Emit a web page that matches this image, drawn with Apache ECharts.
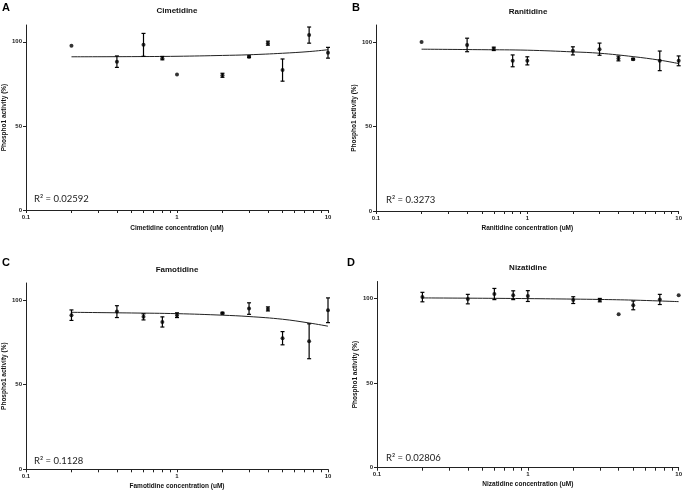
<!DOCTYPE html>
<html><head><meta charset="utf-8">
<script src="https://cdn.jsdelivr.net/npm/echarts@6/dist/echarts.min.js"></script>
<style>html,body{margin:0;padding:0;background:#fff}#c{width:685px;height:492px}</style>
</head><body><div id="c"></div>
<script>
// ---- data ----
const concentrations = [0.2, 0.4, 0.6, 0.8, 1, 2, 3, 4, 5, 7.5, 10];
const cimetidineMean = [97.6, 88.2, 98.2, 90.3, 80.5, 80.1, 91.1, 99.2, 83.2, 104.0, 93.5];
const cimetidineSem  = [0, 3.4, 6.8, 1.0, 0, 1.2, 0.5, 1.2, 6.6, 4.8, 3.2];
const ranitidineMean = [100.0, 98.2, 95.9, 88.8, 88.8, 94.7, 95.7, 90.2, 89.8, 88.8, 88.8];
const ranitidineSem  = [0, 4.0, 1.0, 3.5, 2.4, 2.4, 3.6, 1.4, 0.5, 5.8, 2.9];
const famotidineMean = [91.0, 93.1, 90.0, 87.0, 91.0, 92.2, 94.9, 94.7, 77.4, 75.6, 93.9];
const famotidineSem  = [3.1, 3.5, 1.8, 3.0, 1.4, 0.5, 3.4, 1.2, 3.9, 10.3, 7.3];
const nizatidineMean = [100.8, 99.6, 102.6, 101.9, 101.4, 99.0, 99.0, 90.6, 95.9, 99.4, 101.9];
const nizatidineSem  = [2.8, 2.8, 3.3, 2.6, 3.2, 2.0, 1.0, 0, 2.6, 3.0, 0];
const fitX = [0.2, 0.5, 1, 2, 3, 5, 7.5, 10];
const cimetidineFit = [91.1, 91.2, 91.4, 91.9, 92.3, 93.2, 94.2, 95.3];
const ranitidineFit = [95.7, 95.4, 95.1, 94.1, 93.3, 91.3, 89.2, 87.2];
const famotidineFit = [92.7, 92.3, 91.9, 91.0, 90.2, 88.6, 86.4, 84.5];
const nizatidineFit = [100.3, 100.1, 99.9, 99.6, 99.4, 99.0, 98.5, 98.1];
const drugNames = ['Cimetidine', 'Ranitidine', 'Famotidine', 'Nizatidine'];
const panelLetters = ['A', 'B', 'C', 'D'];
const rSquared = ['0.02592', '0.3273', '0.1128', '0.02806'];
const xTickLabels = [0.1, 1, 10];
const xTickValues = [0.1, 0.2, 0.3, 0.4, 0.5, 0.6, 0.7, 0.8, 0.9, 1, 2, 3, 4, 5, 6, 7, 8, 9, 10];
const yTickLabels = [0, 50, 100];
const yAxisName = 'Phospho1 activity (%)';

// ---- layout ----
const means = [cimetidineMean, ranitidineMean, famotidineMean, nizatidineMean];
const sems = [cimetidineSem, ranitidineSem, famotidineSem, nizatidineSem];
const fits = [cimetidineFit, ranitidineFit, famotidineFit, nizatidineFit];
const grids = [
  {left: 26, top: 25, width: 302, height: 185},
  {left: 376, top: 25, width: 303, height: 186},
  {left: 26, top: 283, width: 302, height: 186.3},
  {left: 377, top: 281.5, width: 302, height: 186.2}
];
const letterPos = [[2, 2], [352, 2], [2, 257], [347, 257]];
const titlePos = [[177, 7], [528, 8], [177, 266], [528, 264]];
const r2Pos = [[34, 194], [386, 195], [34, 456], [386, 453]];
const xNameGap = [15, 14, 13, 13];

const FONT = '"Liberation Sans", Arial, sans-serif';
const AX = '#222';

const titles = [];
const xAxes = [], yAxes = [], series = [];
for (let i = 0; i < 4; i++) {
  titles.push({text: panelLetters[i], left: letterPos[i][0], top: letterPos[i][1], padding: 0,
    textStyle: {fontFamily: FONT, fontSize: 11, fontWeight: 'bold', color: '#000'}});
  titles.push({text: drugNames[i], left: titlePos[i][0], top: titlePos[i][1], padding: 0, textAlign: 'center',
    textStyle: {fontFamily: FONT, fontSize: 8, fontWeight: 'bold', color: '#111'}});
  titles.push({text: 'R² = ' + rSquared[i], left: r2Pos[i][0], top: r2Pos[i][1], padding: 0,
    textStyle: {fontFamily: 'Lato, "Liberation Sans", sans-serif', fontSize: 9.5, fontWeight: 'normal', color: '#222'}});

  xAxes.push({
    type: 'log', logBase: 10, min: 0.1, max: 10, gridIndex: i,
    name: drugNames[i] + ' concentration (uM)', nameLocation: 'middle', nameGap: xNameGap[i],
    nameTextStyle: {fontFamily: FONT, fontSize: 6.5, fontWeight: 'bold', color: '#111'},
    axisLine: {show: true, lineStyle: {color: AX, width: 1}},
    axisTick: {show: true, length: 3, customValues: xTickValues, lineStyle: {color: AX, width: 1}},
    axisLabel: {show: true, customValues: xTickLabels, margin: 4, fontFamily: FONT, fontSize: 6, fontWeight: 'bold', color: '#222',
      formatter: v => String(+v.toPrecision(3))},
    splitLine: {show: false}, minorTick: {show: false}
  });
  yAxes.push({
    type: 'value', min: 0, max: 110, gridIndex: i,
    name: yAxisName, nameLocation: 'middle', nameGap: 17, nameRotate: 90,
    nameTextStyle: {fontFamily: FONT, fontSize: 6.5, fontWeight: 'bold', color: '#111'},
    axisLine: {show: true, lineStyle: {color: AX, width: 1}},
    axisTick: {show: true, length: 3, customValues: yTickLabels, lineStyle: {color: AX, width: 1}},
    axisLabel: {show: true, customValues: yTickLabels, margin: 4, fontFamily: FONT, fontSize: 6, fontWeight: 'bold', color: '#222'},
    splitLine: {show: false}
  });

  series.push({
    type: 'line', xAxisIndex: i, yAxisIndex: i, smooth: 0.4, showSymbol: false, silent: true,
    lineStyle: {color: '#222', width: 1}, z: 2,
    data: fitX.map((x, k) => [x, fits[i][k]])
  });
  series.push({
    type: 'custom', xAxisIndex: i, yAxisIndex: i, z: 3, silent: true,
    data: concentrations.map((c, k) => [c, means[i][k] - sems[i][k], means[i][k] + sems[i][k], sems[i][k]]).filter(d => d[3] > 0),
    renderItem: function (params, api) {
      const x = api.value(0);
      const p1 = api.coord([x, api.value(1)]);
      const p2 = api.coord([x, api.value(2)]);
      const w = 2;
      const st = {stroke: '#000', lineWidth: 1.2};
      return {type: 'group', children: [
        {type: 'line', shape: {x1: p1[0], y1: p1[1], x2: p2[0], y2: p2[1]}, style: st},
        {type: 'line', shape: {x1: p1[0] - w, y1: p1[1], x2: p1[0] + w, y2: p1[1]}, style: st},
        {type: 'line', shape: {x1: p2[0] - w, y1: p2[1], x2: p2[0] + w, y2: p2[1]}, style: st}
      ]};
    }
  });
  series.push({
    type: 'scatter', xAxisIndex: i, yAxisIndex: i, symbol: 'circle', symbolSize: 4, z: 4, silent: true,
    itemStyle: {color: '#000'},
    data: concentrations.map((c, k) => [c, means[i][k]])
  });
}

const chart = echarts.init(document.getElementById('c'), null, {renderer: 'canvas'});
chart.setOption({
  animation: false,
  backgroundColor: '#fff',
  title: titles,
  grid: grids,
  xAxis: xAxes,
  yAxis: yAxes,
  series: series
});
</script>
</body></html>
